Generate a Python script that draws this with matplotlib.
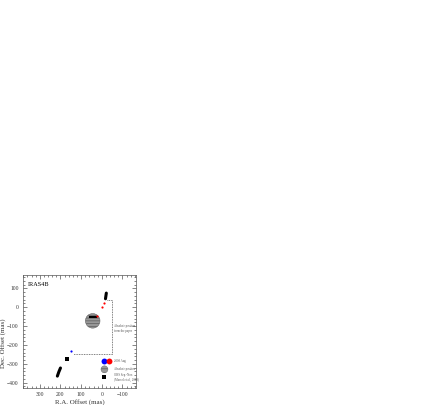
import matplotlib
matplotlib.use('Agg')
import matplotlib.pyplot as plt
from matplotlib.ticker import MultipleLocator

plt.rcParams['font.family'] = ['Liberation Serif', 'DejaVu Serif']
plt.rcParams['hatch.color'] = '#333333'
plt.rcParams['hatch.linewidth'] = 0.6

# maser spots (R.A. offset, Dec. offset) in mas
black_top_x = [-18, -20, -22]
black_top_y = [45, 60, 75]
red_x = [-13, -1, 24]
red_y = [22, 3, -48]
blue_x = [148]
blue_y = [-232]
sq_x = [168]
sq_y = [-276]
black_low_x = [215, 208, 200]
black_low_y = [-365, -343, -322]

# shadow position and its marker bar
shadow_x = [44]
shadow_y = [-72]
bar_x = [56, 28]
bar_y = [-50, -50]

# dotted path from the paper's absolute position
path_x = [-25, -50, -50, 138]
path_y = [38, 38, -250, -250]

fig = plt.figure(figsize=(4.36, 4.05), dpi=100)
ax = fig.add_axes([0.052, 0.042, 0.261, 0.279])

ax.plot(path_x, path_y, color='#555555', ls=(0, (1, 1)), lw=0.6)
ax.scatter(shadow_x, shadow_y, s=110, facecolor='#999999', edgecolor='#666666',
           hatch='------', lw=0.4, zorder=3)
ax.plot(bar_x, bar_y, color='black', lw=1.5, zorder=4)
ax.plot(black_top_x, black_top_y, color='black', lw=2.2, solid_capstyle='round')
ax.plot(black_low_x, black_low_y, color='black', lw=2.2, solid_capstyle='round')
ax.scatter(red_x, red_y, s=2.5, color='red', lw=0, zorder=5)
ax.scatter(blue_x, blue_y, s=2.5, color='blue', lw=0, zorder=5)
ax.scatter(sq_x, sq_y, s=5, marker='s', color='black', lw=0, zorder=5)

ax.text(-57, -112, 'Absolute position\nfrom the paper', fontsize=2.2, color='#555555',
        va='center', ha='left', linespacing=1.3)

# legend drawn in the data frame
ax.scatter([-13], [-285], s=18, color='blue', lw=0, zorder=5)
ax.scatter([-37], [-285], s=18, color='red', lw=0, zorder=5)
ax.text(-58, -285, '2008 Aug', fontsize=2.2, va='center', color='#555555')
ax.scatter([-13], [-329], s=25, facecolor='#999999', edgecolor='#666666',
           hatch='----', lw=0.3, zorder=5)
ax.text(-58, -329, 'Absolute position', fontsize=2.2, va='center', color='#555555')
ax.scatter([-13], [-368], s=6, marker='s', color='black', lw=0, zorder=5)
ax.text(-58, -374, 'OHS Sep.-Nov.\n(Marvel et al., 2008)', fontsize=2.2, va='center',
        color='#555555', linespacing=1.3)

ax.text(358, 118, 'IRAS4B', fontsize=4.5, va='center', ha='left')

ax.set_xlim(383, -168)
ax.set_ylim(-428, 171)
ax.xaxis.set_major_locator(MultipleLocator(100))
ax.xaxis.set_minor_locator(MultipleLocator(20))
ax.yaxis.set_major_locator(MultipleLocator(100))
ax.yaxis.set_minor_locator(MultipleLocator(20))
ax.tick_params(which='both', direction='in', top=True, right=True, labelsize=4,
               width=0.5, pad=3, color='#555555', labelcolor='#333333')
ax.tick_params(which='major', length=3)
ax.tick_params(which='minor', length=1.5)
for sp in ax.spines.values():
    sp.set_linewidth(0.5)
    sp.set_color('#555555')

ax.set_xlabel('R.A. Offset (mas)', fontsize=5, color='#333333')
ax.set_ylabel('Dec. Offset (mas)', fontsize=5, color='#333333')
ax.xaxis.set_label_coords(0.5, -0.095)
ax.yaxis.set_label_coords(-0.145, 0.4)

fig.savefig('out.png', dpi=100)
